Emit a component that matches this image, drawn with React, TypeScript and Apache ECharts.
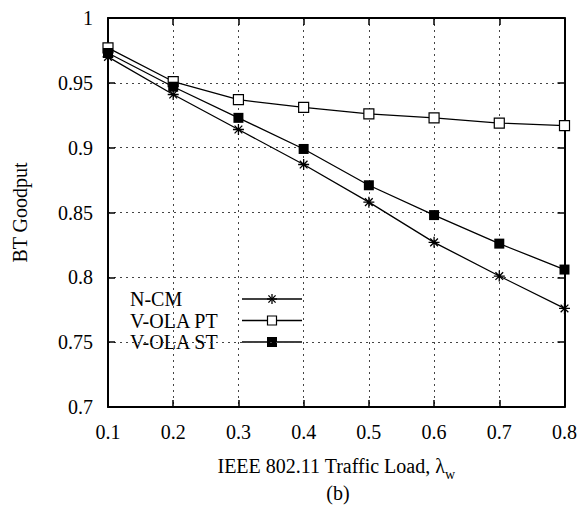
import React, { useEffect, useRef } from "react";
import * as echarts from "echarts";

// Traffic load values along the x axis
const trafficLoad = [0.1, 0.2, 0.3, 0.4, 0.5, 0.6, 0.7, 0.8];

// BT goodput per scheme
const nCm = [0.970, 0.941, 0.914, 0.887, 0.858, 0.827, 0.801, 0.776];
const volaPt = [0.977, 0.951, 0.937, 0.931, 0.926, 0.923, 0.919, 0.917];
const volaSt = [0.973, 0.947, 0.923, 0.899, 0.871, 0.848, 0.826, 0.806];

const seriesNames = ["N-CM", "V-OLA PT", "V-OLA ST"];

const FONT = "Liberation Serif";
const ASTERISK =
  "path://M0,5L10,5M5,0L5,10M1.5,1.5L8.5,8.5M1.5,8.5L8.5,1.5";

const pairs = (ys: number[]) => trafficLoad.map((x, i) => [x, ys[i]]);

export default function App() {
  const ref = useRef<HTMLDivElement>(null);

  useEffect(() => {
    if (!ref.current) return;
    const chart = echarts.init(ref.current, undefined, { renderer: "svg" });

    const axisLine = { show: true, lineStyle: { color: "#000", width: 2 } };
    const tick = {
      show: true,
      inside: true,
      length: 7,
      lineStyle: { color: "#000", width: 1.5 },
    };
    const grid = {
      show: true,
      lineStyle: { color: "#444", width: 1, type: [2, 4] as number[] },
    };

    // legend box drawn in the lower-left corner of the plot
    const rowY = [299, 320.5, 342];
    const lineX0 = 242;
    const lineX1 = 302;
    const symX = (lineX0 + lineX1) / 2;
    const legendItems: any[] = [
      {
        type: "rect",
        shape: { x: 109, y: 287, width: 206, height: 66 },
        style: { fill: "#fff" },
      },
    ];
    seriesNames.forEach((name, i) => {
      legendItems.push({
        type: "text",
        x: 130,
        y: rowY[i],
        style: {
          text: name,
          fontFamily: FONT,
          fontSize: 20,
          lineHeight: 19,
          fill: "#000",
          verticalAlign: "middle",
          align: "left",
        },
      });
      legendItems.push({
        type: "line",
        shape: { x1: lineX0, y1: rowY[i], x2: lineX1, y2: rowY[i] },
        style: { stroke: "#000", lineWidth: 1.3 },
      });
    });
    // asterisk marker
    const a = 5;
    const d = 3.6;
    [
      [-a, 0, a, 0],
      [0, -a, 0, a],
      [-d, -d, d, d],
      [-d, d, d, -d],
    ].forEach(([x1, y1, x2, y2]) => {
      legendItems.push({
        type: "line",
        shape: { x1: symX + x1, y1: rowY[0] + y1, x2: symX + x2, y2: rowY[0] + y2 },
        style: { stroke: "#000", lineWidth: 1.3 },
      });
    });
    legendItems.push({
      type: "rect",
      shape: { x: symX - 4.5, y: rowY[1] - 4.5, width: 9, height: 9 },
      style: { fill: "#fff", stroke: "#000", lineWidth: 1.2 },
    });
    legendItems.push({
      type: "rect",
      shape: { x: symX - 5, y: rowY[2] - 5, width: 10, height: 10 },
      style: { fill: "#000" },
    });

    chart.setOption({
      animation: false,
      backgroundColor: "#fff",
      textStyle: { fontFamily: FONT, color: "#000" },
      grid: { left: 108, right: 12, top: 18, bottom: 101 },
      xAxis: [
        {
          type: "value",
          min: 0.1,
          max: 0.8,
          interval: 0.1,
          name: "IEEE 802.11 Traffic Load, λ{sub|w}",
          nameLocation: "middle",
          nameGap: 44,
          nameTextStyle: {
            fontFamily: FONT,
            fontSize: 20,
            color: "#000",
            rich: {
              sub: {
                fontFamily: FONT,
                fontSize: 14,
                color: "#000",
                padding: [16, 0, 0, 0],
              },
            },
          },
          axisLine,
          axisTick: tick,
          splitLine: grid,
          axisLabel: {
            margin: 15,
            fontFamily: FONT,
            fontSize: 20,
            color: "#000",
            formatter: (v: number) => v.toFixed(1),
          },
        },
        {
          type: "value",
          position: "top",
          min: 0.1,
          max: 0.8,
          interval: 0.1,
          axisLine,
          axisTick: tick,
          axisLabel: { show: false },
          splitLine: { show: false },
        },
      ],
      yAxis: [
        {
          type: "value",
          min: 0.7,
          max: 1,
          interval: 0.05,
          name: "BT Goodput",
          nameLocation: "middle",
          nameGap: 78,
          nameTextStyle: { fontFamily: FONT, fontSize: 20, color: "#000" },
          axisLine,
          axisTick: tick,
          splitLine: grid,
          axisLabel: {
            margin: 15,
            fontFamily: FONT,
            fontSize: 20,
            color: "#000",
            formatter: (v: number) => String(parseFloat(v.toFixed(2))),
          },
        },
        {
          type: "value",
          position: "right",
          min: 0.7,
          max: 1,
          interval: 0.05,
          axisLine,
          axisTick: tick,
          axisLabel: { show: false },
          splitLine: { show: false },
        },
      ],
      series: [
        {
          name: seriesNames[0],
          type: "line",
          data: pairs(nCm),
          symbol: ASTERISK,
          symbolSize: 11,
          lineStyle: { color: "#000", width: 1.3 },
          itemStyle: { color: "transparent", borderColor: "#000", borderWidth: 1.3 },
        },
        {
          name: seriesNames[1],
          type: "line",
          data: pairs(volaPt),
          symbol: "rect",
          symbolSize: 10,
          lineStyle: { color: "#000", width: 1.3 },
          itemStyle: { color: "#fff", borderColor: "#000", borderWidth: 1.2 },
        },
        {
          name: seriesNames[2],
          type: "line",
          data: pairs(volaSt),
          symbol: "rect",
          symbolSize: 10,
          lineStyle: { color: "#000", width: 1.3 },
          itemStyle: { color: "#000", borderColor: "#000", borderWidth: 0 },
        },
      ],
      graphic: [
        { type: "group", z: 10, children: legendItems },
        {
          type: "text",
          z: 10,
          x: 338,
          y: 493,
          style: {
            text: "(b)",
            fontFamily: FONT,
            fontSize: 20,
            fill: "#000",
            align: "center",
            verticalAlign: "middle",
          },
        },
      ],
    });

    return () => chart.dispose();
  }, []);

  return (
    <div
      ref={ref}
      style={{ position: "absolute", left: 0, top: 0, width: 580, height: 508 }}
    />
  );
}
